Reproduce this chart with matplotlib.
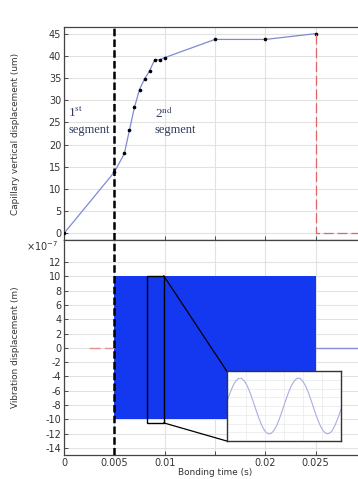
import numpy as np
import matplotlib
matplotlib.use("Agg")
import matplotlib.pyplot as plt
from matplotlib.patches import Rectangle, ConnectionPatch

plt.rcParams["axes.unicode_minus"] = False

# ---- data ----
t_cap = [0.0, 0.005, 0.006, 0.0065, 0.007, 0.0075, 0.008, 0.0085, 0.009, 0.0095, 0.010, 0.015, 0.020, 0.025]
cap_um = [0.0, 13.8, 18.0, 23.3, 28.4, 32.4, 34.8, 36.6, 39.1, 39.1, 39.6, 43.7, 43.7, 45.0]
t_release = [0.025, 0.025, 0.031]
cap_release = [45.0, 0.0, 0.0]

vib_t = [0.005, 0.025]          # vibration active interval (s)
vib_amp = [1.0e-6, 1.0e-6]      # vibration amplitude (m)
pre_t = [0.0025, 0.005]         # dashed zero line before vibration
pre_v = [0.0, 0.0]
post_t = [0.025, 0.031]
post_v = [0.0, 0.0]
zoom_box_t = [0.0082, 0.0099]
zoom_box_v = [-1.05e-6, 1.01e-6]

inset_v = [0.13, 0.43, 0.69, 0.88, 0.98, 0.99, 0.90, 0.72, 0.47, 0.17, -0.14, -0.44, -0.70, -0.89,
           -0.99, -0.99, -0.89, -0.71, -0.45, -0.15, 0.16, 0.46, 0.71, 0.89, 0.99, 0.99, 0.88, 0.70,
           0.44, 0.14, -0.18, -0.47, -0.72, -0.90, -0.99, -0.98, -0.88, -0.68, -0.42, -0.12]

x_ticks = [0, 0.005, 0.01, 0.015, 0.02, 0.025]
x_ticklabels = ["0", "0.005", "0.01", "", "0.02", "0.025"]
top_yticks = [0, 5, 10, 15, 20, 25, 30, 35, 40, 45]
bot_yticks = [-14, -12, -10, -8, -6, -4, -2, 0, 2, 4, 6, 8, 10, 12]
scale = 1e-7

# ---- style ----
W, H = 358, 479
fig = plt.figure(figsize=(W/100, H/100), dpi=100)
tick_col = "#333333"
grid_col = "#e2e2e2"
fs = 7
lfs = 6.4

left = 64/W
right = 366/W
ax1 = fig.add_axes([left, 1-240/H, right-left, (240-27)/H])
ax2 = fig.add_axes([left, 1-455/H, right-left, (455-240)/H])

for ax in (ax1, ax2):
    ax.set_xlim(0, 0.03)
    ax.set_xticks(x_ticks)
    ax.grid(True, color=grid_col, linewidth=0.8)
    ax.set_axisbelow(True)
    ax.tick_params(direction="in", length=3, colors=tick_col, labelsize=fs, width=0.6, pad=2)
    for s in ax.spines.values():
        s.set_color("#444444")
        s.set_linewidth(0.9)
    ax.axvline(0.005, color="black", linewidth=1.8, dashes=(3, 1.3), zorder=5)

ylab_x = (20 - 64) / (366 - 64)

# top
ax1.set_ylim(-1.5, 46.5)
ax1.set_yticks(top_yticks)
ax1.set_xticklabels([])
ax1.plot(t_cap, cap_um, color="#7f8ad0", linewidth=0.9, marker="o", markersize=1.6,
         markerfacecolor="black", markeredgecolor="black", zorder=3)
ax1.plot(t_release, cap_release, color="#e06666", linewidth=0.9, dashes=(8, 3), zorder=3)
ax1.set_ylabel("Capillary vertical displacement (um)", fontsize=lfs, color=tick_col)
ax1.yaxis.set_label_coords(ylab_x, 0.5)

serif = ["Liberation Serif", "DejaVu Serif"]
tc = "#2e3d5e"
ax1.text(0.0004, 27.2, r"1$^{\mathrm{st}}$", fontsize=9.5, family=serif, color=tc,
         va="center", math_fontfamily="stix")
ax1.text(0.0004, 23.3, "segment", fontsize=9, family=serif, color=tc, va="center")
ax1.text(0.0090, 27.2, r"2$^{\mathrm{nd}}$", fontsize=9.5, family=serif, color=tc,
         va="center", math_fontfamily="stix")
ax1.text(0.0090, 23.3, "segment", fontsize=9, family=serif, color=tc, va="center")

# bottom
ax2.set_ylim(-15, 15.1)
ax2.set_yticks(bot_yticks)
ax2.set_xticklabels(x_ticklabels)
ax2.fill_between(vib_t, [-a/scale for a in vib_amp], [a/scale for a in vib_amp],
                 color="#1438f0", linewidth=0, zorder=3)
ax2.plot(pre_t, pre_v, color="#e89090", linewidth=1.0, dashes=(8, 3), zorder=3)
ax2.plot(post_t, post_v, color="#8891d6", linewidth=1.0, zorder=3)
ax2.set_ylabel("Vibration displacement (m)", fontsize=lfs, color=tick_col)
ax2.yaxis.set_label_coords(ylab_x, 0.5)
ax2.set_xlabel("Bonding time (s)", fontsize=lfs, color=tick_col, labelpad=0)
fig.text(26/W, 1-246/H, r"$\times10^{-7}$", fontsize=fs, color=tick_col, va="center")

rect = Rectangle((zoom_box_t[0], zoom_box_v[0]/scale), zoom_box_t[1]-zoom_box_t[0],
                 (zoom_box_v[1]-zoom_box_v[0])/scale, fill=False, edgecolor="black",
                 linewidth=1.0, zorder=6)
ax2.add_patch(rect)

ax_in = fig.add_axes([226.7/W, 1-441/H, (341-226.7)/W, (441-371)/H])
inset_x = np.linspace(0, 1, len(inset_v))
ax_in.plot(inset_x, inset_v, color="#a8aedf", linewidth=0.8)
ax_in.set_xlim(0, 1)
ax_in.set_ylim(-1.25, 1.25)
ax_in.set_xticks(np.linspace(0, 1, 7))
ax_in.set_yticks(np.linspace(-1.25, 1.25, 9))
ax_in.tick_params(length=0, labelbottom=False, labelleft=False)
ax_in.grid(True, color="#ececec", linewidth=0.6)
for s in ax_in.spines.values():
    s.set_color("#333333")
    s.set_linewidth(1.0)

c1 = ConnectionPatch(xyA=(zoom_box_t[1], zoom_box_v[1]/scale), coordsA=ax2.transData,
                     xyB=(0, 1), coordsB=ax_in.transAxes, color="black", linewidth=0.9, zorder=7)
c2 = ConnectionPatch(xyA=(zoom_box_t[1], zoom_box_v[0]/scale), coordsA=ax2.transData,
                     xyB=(0, 0), coordsB=ax_in.transAxes, color="black", linewidth=0.9, zorder=7)
fig.add_artist(c1)
fig.add_artist(c2)

fig.savefig("out.png", dpi=100)
